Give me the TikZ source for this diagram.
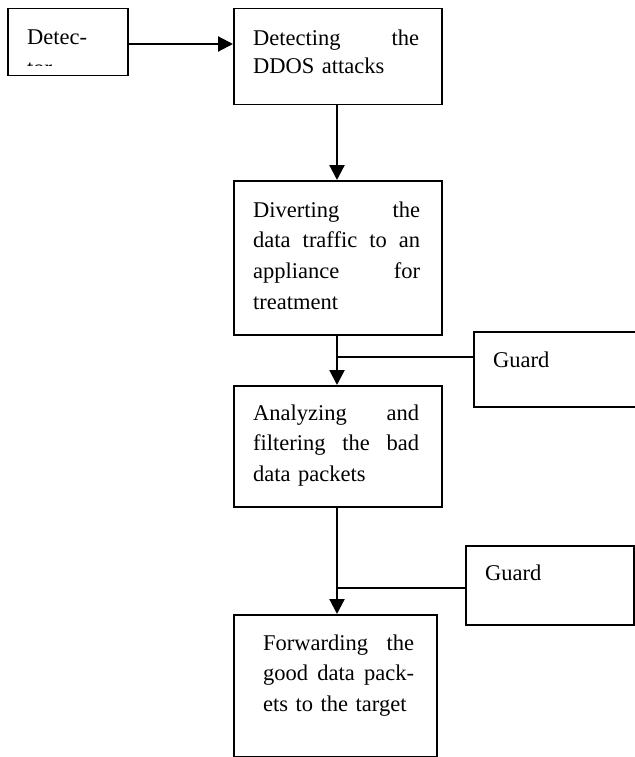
\documentclass[tikz,border=0pt]{standalone}
\usepackage{fontspec}
\setmainfont{Liberation Serif}
\usetikzlibrary{arrows.meta}
\begin{document}
\begin{tikzpicture}[x=1pt,y=-1pt,
  box/.style={draw,line width=1.5pt,rectangle,inner sep=0pt,anchor=north west},
  txt/.style={inner sep=0pt,anchor=base west,align=left,font=\fontsize{22.5}{30.7}\selectfont},
  arr/.style={line width=2.2pt,-{Triangle[length=15pt,width=15pt]}},
  link/.style={line width=1.2pt}]
\fill[white] (0,0) rectangle (634,757);
\useasboundingbox (0,0) rectangle (634,757);
% boxes
\node[box,minimum width=120pt,minimum height=67pt] (det) at (7,8) {};
\node[box,minimum width=208pt,minimum height=96pt] (b1) at (233,8) {};
\node[box,minimum width=208pt,minimum height=154pt] (b2) at (233,180) {};
\node[box,minimum width=208pt,minimum height=121pt] (b3) at (233,385) {};
\node[box,minimum width=203pt,minimum height=142pt] (b4) at (233,614) {};
\node[box,minimum width=190pt,minimum height=75pt] (g1) at (473,331) {};
\node[box,minimum width=168pt,minimum height=79pt] (g2) at (465,545) {};
% texts
\begin{scope}
\clip (7,8) rectangle (127,66);
\node[txt,text width=90pt] (tdet) at (27,45) {Detec-\\tor};
\end{scope}
\node[txt,text width=166pt,font=\fontsize{22.5}{28}\selectfont] (t1) at (253,46) {Detecting\hfill the\\DDOS attacks};
\node[txt,text width=167pt] (t2) at (253,217) {Diverting\hfill the\\data\hfill traffic\hfill to\hfill an\\appliance\hfill for\\treatment};
\node[txt,text width=166pt] (t3) at (253,420) {Analyzing\hfill and\\filtering\hfill the\hfill bad\\data packets};
\node[txt,text width=151pt] (t4) at (263,650) {Forwarding\hfill the\\good\hfill data\hfill pack-\\ets to the target};
\node[txt] (tg1) at (493,367) {Guard};
\node[txt] (tg2) at (485,580) {Guard};
% connectors
\coordinate (j1) at (337,357);
\coordinate (j2) at (337,588);
\draw[arr] (det.east |- 0,44) -- (b1.west |- 0,44);
\draw[arr] (b1.south -| j1) -- (b2.north -| j1);
\draw[arr] (b2.south -| j1) -- (b3.north -| j1);
\draw[arr] (b3.south -| j2) -- (b4.north -| j2);
\draw[link] (g1.west |- j1) -- (j1);
\draw[link] (g2.west |- j2) -- (j2);
\end{tikzpicture}
\end{document}
